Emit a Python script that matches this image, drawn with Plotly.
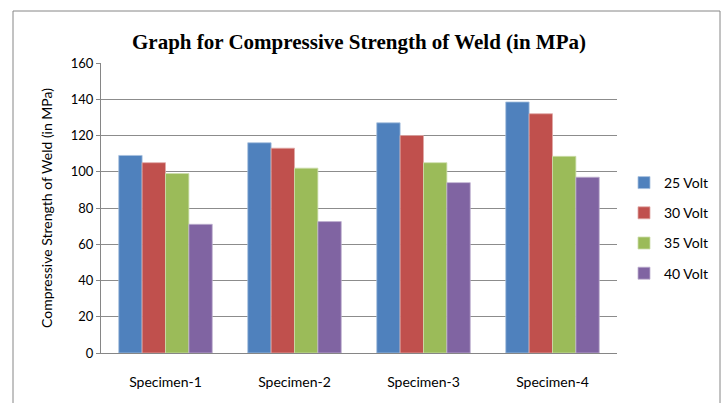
import plotly.graph_objects as go

# Compressive strength of weld (MPa) per specimen at each welding voltage
specimens = ["Specimen-1", "Specimen-2", "Specimen-3", "Specimen-4"]
series_names = ["25 Volt", "30 Volt", "35 Volt", "40 Volt"]
volt_25 = [109, 116, 127, 138.5]
volt_30 = [105, 113, 120, 132]
volt_35 = [99, 102, 105, 108.5]
volt_40 = [71, 72.5, 94, 97]
series_colors = ["#4F81BD", "#C0504D", "#9BBB59", "#8064A2"]
edge_colors = ["#A7C0DE", "#E0A8A6", "#CDDDAC", "#BFB1D0"]

fig = go.Figure()
for name, vals, col, edge in zip(series_names, [volt_25, volt_30, volt_35, volt_40],
                                 series_colors, edge_colors):
    fig.add_trace(go.Bar(
        x=specimens, y=vals, name=name, legendgroup=name,
        marker=dict(color=col, line=dict(color=edge, width=0.8)),
    ))

L, R, T, B = 101, 111, 63, 50
W, H = 728, 403
pw, ph = W - L - R, H - T - B

def px_x(p):
    return (p - L) / pw

def px_y(p):
    return (H - B - p) / ph

fig.update_layout(
    width=W, height=H,
    margin=dict(l=L, r=R, t=T, b=B, pad=0, autoexpand=False),
    paper_bgcolor="white", plot_bgcolor="white",
    barmode="group", bargap=0.275, bargroupgap=0,
    title=dict(
        text="<b>Graph for Compressive Strength of Weld (in MPa)</b>",
        x=0.5, xanchor="center", xref="paper",
        y=1 - 42 / H, yanchor="middle",
        font=dict(family="Liberation Serif", size=21, color="black"),
    ),
    font=dict(family="Lato, Open Sans, sans-serif", color="black"),
    xaxis=dict(
        showgrid=False, showline=True, linecolor="#868686", linewidth=1,
        ticks="", tickfont=dict(size=14, color="black"), ticklabelstandoff=16,
    ),
    yaxis=dict(
        range=[0, 160], dtick=20, showgrid=True, gridcolor="#8C8C8C", gridwidth=1,
        showline=True, linecolor="#868686", linewidth=1,
        ticks="outside", ticklen=4, tickcolor="#868686",
        tickfont=dict(size=13, color="black"), zeroline=False,
        title=dict(text="Compressive Strength of Weld (in MPa)",
                   font=dict(size=14, color="black"), standoff=14),
    ),
    legend=dict(
        xref="container", yref="container",
        x=624 / W, xanchor="left", y=1 - 228 / H, yanchor="middle",
        font=dict(size=14, color="black"), tracegroupgap=9,
        itemwidth=30, bgcolor="rgba(0,0,0,0)",
    ),
    shapes=[dict(
        type="rect", xref="paper", yref="paper",
        x0=px_x(13), x1=px_x(720), y0=px_y(410), y1=px_y(11),
        line=dict(color="#868686", width=1), fillcolor="rgba(0,0,0,0)", layer="below",
    )],
)

fig.write_html("out.html")
